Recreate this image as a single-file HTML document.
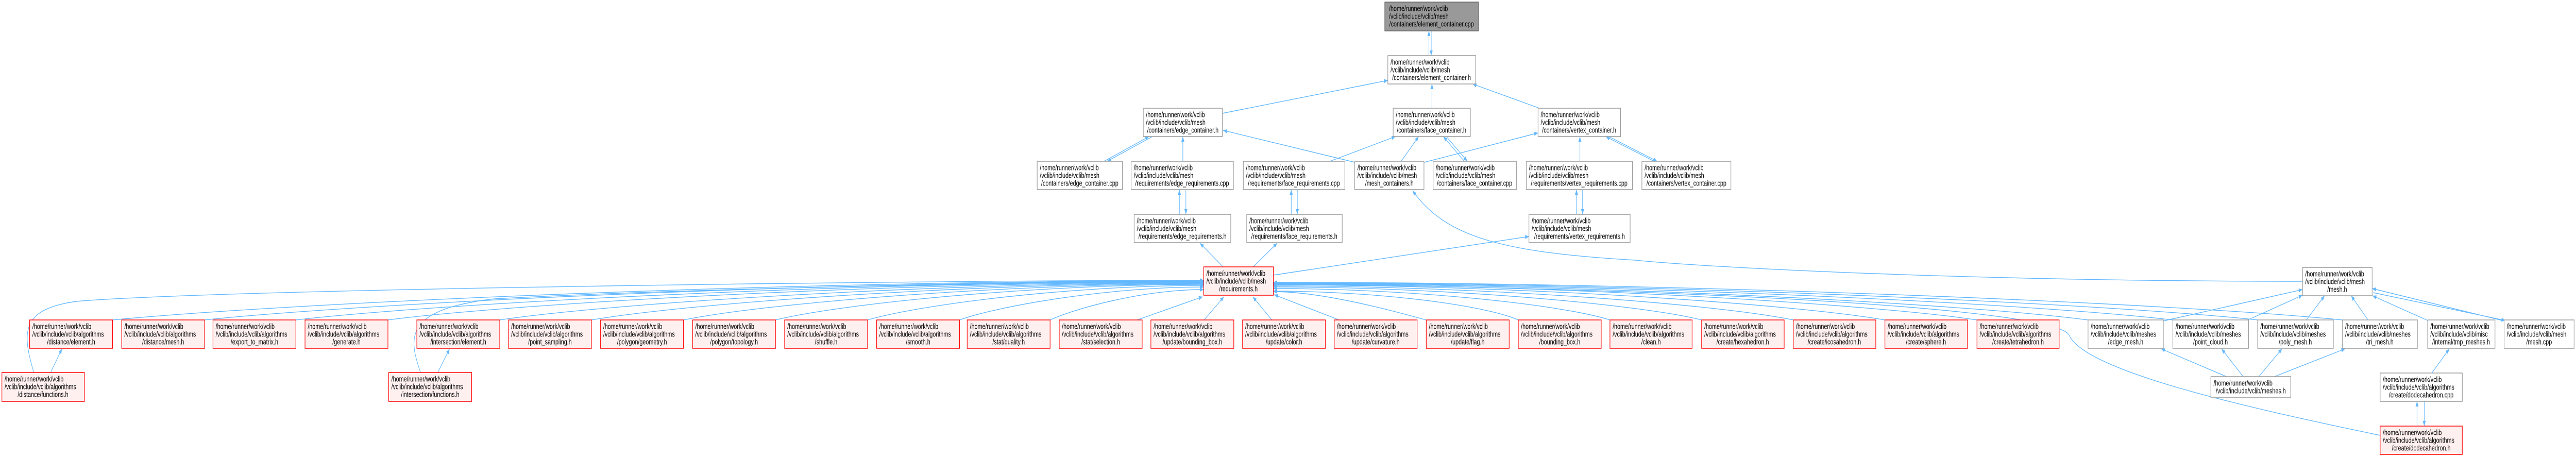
<!DOCTYPE html>
<html><head><meta charset="utf-8"><style>
html,body{margin:0;padding:0;background:#fff;width:100%;height:100%;overflow:hidden;}
svg{display:block;position:absolute;left:0;top:0;width:100vw;height:100vh;}
text{font-family:"Liberation Sans",Helvetica,Arial,sans-serif;font-size:14.6px;fill:#000;transform:translateY(1.5px);}
.w rect{fill:#fff;stroke:#999;stroke-width:1.5;}
.g rect{fill:#999;stroke:#666;stroke-width:1.5;}
.r rect{fill:#fff0f0;stroke:#f00;stroke-width:1.5;}
path.e{fill:none;stroke:#63b8ff;stroke-width:1.4;marker-end:url(#a);}
</style></head><body>
<svg viewBox="0 0 6773 887" preserveAspectRatio="none" xmlns="http://www.w3.org/2000/svg">
<defs><marker id="a" markerWidth="10" markerHeight="8" refX="10" refY="4" orient="auto" markerUnits="userSpaceOnUse"><path d="M0,0L10,4L0,8z" fill="#63b8ff"/></marker></defs>

<path class="e" d="M3757,108L3757,60"/>
<path class="e" d="M3763,60L3763,108"/>
<path class="e" d="M3214,220L3649,156"/>
<path class="e" d="M3765,210L3765,163"/>
<path class="e" d="M4051,211L3872,163"/>
<path class="e" d="M2903,313L3021,265"/>
<path class="e" d="M3030,265L2911,313"/>
<path class="e" d="M3110,313L3110,265"/>
<path class="e" d="M3562,315L3216,253"/>
<path class="e" d="M3497,313L3669,265"/>
<path class="e" d="M3684,313L3730,265"/>
<path class="e" d="M3850,313L3795,265"/>
<path class="e" d="M3803,265L3858,313"/>
<path class="e" d="M3745,315L4044,258"/>
<path class="e" d="M4154,313L4154,265"/>
<path class="e" d="M4349,313L4222,265"/>
<path class="e" d="M4230,265L4357,313"/>
<path class="e" d="M3101,416L3101,368"/>
<path class="e" d="M3118,368L3118,416"/>
<path class="e" d="M3395,416L3395,368"/>
<path class="e" d="M3411,368L3411,416"/>
<path class="e" d="M4145,416L4145,368"/>
<path class="e" d="M4161,368L4161,416"/>
<path class="e" d="M3216,518L3155,472"/>
<path class="e" d="M3295,518L3358,472"/>
<path class="e" d="M3348,534L4020,459"/>
<path class="e" d="M6054,546C5200,546 4500,520 4300,505C3950,490 3800,460 3714,370"/>

<path class="e" d="M296,621C726,590 2017,545 3165,545"/>
<path class="e" d="M538,621C932,590 2114,546 3165,546"/>
<path class="e" d="M778,621C1136,590 2210,547 3165,547"/>
<path class="e" d="M1020,621C1342,590 2307,548 3165,548"/>
<path class="e" d="M1314,621C1592,590 2425,549 3165,549"/>
<path class="e" d="M1555,621C1797,590 2521,550 3165,550"/>
<path class="e" d="M1797,621C2002,590 2618,551 3165,551"/>
<path class="e" d="M2039,621C2208,590 2715,552 3165,552"/>
<path class="e" d="M2281,621C2414,592 2811,554 3165,554"/>
<path class="e" d="M2523,621C2619,595 2908,557 3165,557"/>
<path class="e" d="M2761,621C2822,600 3003,562 3165,562"/>
<path class="e" d="M2990,621L3162,576"/>
<path class="e" d="M3166,621L3218,576"/>
<path class="e" d="M3344,621L3294,576"/>
<path class="e" d="M3521,621L3350,572"/>
<path class="e" d="M3749,621C3600,590 3450,566 3348,566"/>
<path class="e" d="M89,723C55,640 60,600 200,585C600,560 2500,544 3165,544"/>
<path class="e" d="M133,723L163,677"/>
<path class="e" d="M1106,723C1070,650 1070,600 1300,580C1800,560 2700,547 3165,547"/>
<path class="e" d="M1151,723L1182,677"/>

<path class="e" d="M3992,621C3895,590 3606,565 3348,565"/>
<path class="e" d="M4233,621C4100,590 3702,560 3348,560"/>
<path class="e" d="M4474,621C4305,590 3798,557 3348,557"/>
<path class="e" d="M4715,621C4510,590 3895,555 3348,555"/>
<path class="e" d="M4956,621C4715,590 3991,553 3348,553"/>
<path class="e" d="M5198,621C4920,590 4088,552 3348,552"/>
<path class="e" d="M5490,621C5169,590 4205,551 3348,551"/>
<path class="e" d="M5713,621C5358,590 4294,550 3348,550"/>
<path class="e" d="M5936,621C5548,590 4383,549 3348,549"/>
<path class="e" d="M6159,621C5737,590 4472,548 3348,548"/>
<path class="e" d="M6258,845C5900,790 5480,720 5440,650C5400,600 4500,560 3348,551"/>

<path class="e" d="M5688,623L6054,562"/>
<path class="e" d="M5907,622L6054,573"/>
<path class="e" d="M6063,622L6112,574"/>
<path class="e" d="M6227,622L6182,574"/>
<path class="e" d="M6383,622L6238,574"/>
<path class="e" d="M6579,622L6237,560"/>
<path class="e" d="M6240,568L6587,622"/>
<path class="e" d="M5854,731L5682,677"/>
<path class="e" d="M5898,731L5841,677"/>
<path class="e" d="M5939,731L6000,677"/>
<path class="e" d="M5980,731L6166,677"/>
<path class="e" d="M6394,724L6440,677"/>
<path class="e" d="M6355,827L6355,779"/>
<path class="e" d="M6374,779L6374,827"/>

<g class="g"><rect x="3641" y="4" width="246" height="56"/><text x="3652" y="20">/home/runner/work/vclib</text><text x="3652" y="35">/vclib/include/vclib/mesh</text><text x="3764" y="50" text-anchor="middle">/containers/element_container.cpp</text></g>
<g class="w"><rect x="3649" y="108" width="231" height="55"/><text x="3656" y="124">/home/runner/work/vclib</text><text x="3656" y="139">/vclib/include/vclib/mesh</text><text x="3764" y="154" text-anchor="middle">/containers/element_container.h</text></g>
<g class="w"><rect x="3006" y="210" width="208" height="55"/><text x="3013" y="226">/home/runner/work/vclib</text><text x="3013" y="241">/vclib/include/vclib/mesh</text><text x="3110" y="256" text-anchor="middle">/containers/edge_container.h</text></g>
<g class="w"><rect x="3663" y="210" width="203" height="55"/><text x="3670" y="226">/home/runner/work/vclib</text><text x="3670" y="241">/vclib/include/vclib/mesh</text><text x="3764" y="256" text-anchor="middle">/containers/face_container.h</text></g>
<g class="w"><rect x="4044" y="210" width="217" height="55"/><text x="4051" y="226">/home/runner/work/vclib</text><text x="4051" y="241">/vclib/include/vclib/mesh</text><text x="4152" y="256" text-anchor="middle">/containers/vertex_container.h</text></g>

<g class="w"><rect x="2727" y="313" width="224" height="55"/><text x="2734" y="329">/home/runner/work/vclib</text><text x="2734" y="344">/vclib/include/vclib/mesh</text><text x="2839" y="359" text-anchor="middle">/containers/edge_container.cpp</text></g>
<g class="w"><rect x="2974" y="313" width="269" height="55"/><text x="2981" y="329">/home/runner/work/vclib</text><text x="2981" y="344">/vclib/include/vclib/mesh</text><text x="3108" y="359" text-anchor="middle">/requirements/edge_requirements.cpp</text></g>
<g class="w"><rect x="3269" y="313" width="267" height="55"/><text x="3276" y="329">/home/runner/work/vclib</text><text x="3276" y="344">/vclib/include/vclib/mesh</text><text x="3402" y="359" text-anchor="middle">/requirements/face_requirements.cpp</text></g>
<g class="w"><rect x="3562" y="313" width="182" height="55"/><text x="3569" y="329">/home/runner/work/vclib</text><text x="3569" y="344">/vclib/include/vclib/mesh</text><text x="3653" y="359" text-anchor="middle">/mesh_containers.h</text></g>
<g class="w"><rect x="3768" y="313" width="219" height="55"/><text x="3775" y="329">/home/runner/work/vclib</text><text x="3775" y="344">/vclib/include/vclib/mesh</text><text x="3877" y="359" text-anchor="middle">/containers/face_container.cpp</text></g>
<g class="w"><rect x="4013" y="313" width="279" height="55"/><text x="4020" y="329">/home/runner/work/vclib</text><text x="4020" y="344">/vclib/include/vclib/mesh</text><text x="4152" y="359" text-anchor="middle">/requirements/vertex_requirements.cpp</text></g>
<g class="w"><rect x="4317" y="313" width="234" height="55"/><text x="4324" y="329">/home/runner/work/vclib</text><text x="4324" y="344">/vclib/include/vclib/mesh</text><text x="4434" y="359" text-anchor="middle">/containers/vertex_container.cpp</text></g>

<g class="w"><rect x="2982" y="416" width="254" height="55"/><text x="2989" y="432">/home/runner/work/vclib</text><text x="2989" y="447">/vclib/include/vclib/mesh</text><text x="3109" y="462" text-anchor="middle">/requirements/edge_requirements.h</text></g>
<g class="w"><rect x="3278" y="416" width="251" height="55"/><text x="3285" y="432">/home/runner/work/vclib</text><text x="3285" y="447">/vclib/include/vclib/mesh</text><text x="3403" y="462" text-anchor="middle">/requirements/face_requirements.h</text></g>
<g class="w"><rect x="4020" y="416" width="266" height="55"/><text x="4027" y="432">/home/runner/work/vclib</text><text x="4027" y="447">/vclib/include/vclib/mesh</text><text x="4153" y="462" text-anchor="middle">/requirements/vertex_requirements.h</text></g>

<g class="r"><rect x="3165" y="518" width="183" height="55"/><text x="3172" y="534">/home/runner/work/vclib</text><text x="3172" y="549">/vclib/include/vclib/mesh</text><text x="3256" y="564" text-anchor="middle">/requirements.h</text></g>
<g class="w"><rect x="6054" y="519" width="183" height="55"/><text x="6061" y="535">/home/runner/work/vclib</text><text x="6061" y="550">/vclib/include/vclib/mesh</text><text x="6145" y="565" text-anchor="middle">/mesh.h</text></g>

<g class="r"><rect x="78" y="621" width="218" height="55"/><text x="85" y="637">/home/runner/work/vclib</text><text x="85" y="652">/vclib/include/vclib/algorithms</text><text x="187" y="667" text-anchor="middle">/distance/element.h</text></g>
<g class="r"><rect x="320" y="621" width="218" height="55"/><text x="327" y="637">/home/runner/work/vclib</text><text x="327" y="652">/vclib/include/vclib/algorithms</text><text x="429" y="667" text-anchor="middle">/distance/mesh.h</text></g>
<g class="r"><rect x="560" y="621" width="218" height="55"/><text x="567" y="637">/home/runner/work/vclib</text><text x="567" y="652">/vclib/include/vclib/algorithms</text><text x="669" y="667" text-anchor="middle">/export_to_matrix.h</text></g>
<g class="r"><rect x="802" y="621" width="218" height="55"/><text x="809" y="637">/home/runner/work/vclib</text><text x="809" y="652">/vclib/include/vclib/algorithms</text><text x="911" y="667" text-anchor="middle">/generate.h</text></g>
<g class="r"><rect x="1096" y="621" width="218" height="55"/><text x="1103" y="637">/home/runner/work/vclib</text><text x="1103" y="652">/vclib/include/vclib/algorithms</text><text x="1205" y="667" text-anchor="middle">/intersection/element.h</text></g>
<g class="r"><rect x="1337" y="621" width="218" height="55"/><text x="1344" y="637">/home/runner/work/vclib</text><text x="1344" y="652">/vclib/include/vclib/algorithms</text><text x="1446" y="667" text-anchor="middle">/point_sampling.h</text></g>
<g class="r"><rect x="1579" y="621" width="218" height="55"/><text x="1586" y="637">/home/runner/work/vclib</text><text x="1586" y="652">/vclib/include/vclib/algorithms</text><text x="1688" y="667" text-anchor="middle">/polygon/geometry.h</text></g>
<g class="r"><rect x="1821" y="621" width="218" height="55"/><text x="1828" y="637">/home/runner/work/vclib</text><text x="1828" y="652">/vclib/include/vclib/algorithms</text><text x="1930" y="667" text-anchor="middle">/polygon/topology.h</text></g>
<g class="r"><rect x="2063" y="621" width="218" height="55"/><text x="2070" y="637">/home/runner/work/vclib</text><text x="2070" y="652">/vclib/include/vclib/algorithms</text><text x="2172" y="667" text-anchor="middle">/shuffle.h</text></g>
<g class="r"><rect x="2305" y="621" width="218" height="55"/><text x="2312" y="637">/home/runner/work/vclib</text><text x="2312" y="652">/vclib/include/vclib/algorithms</text><text x="2414" y="667" text-anchor="middle">/smooth.h</text></g>
<g class="r"><rect x="2543" y="621" width="218" height="55"/><text x="2550" y="637">/home/runner/work/vclib</text><text x="2550" y="652">/vclib/include/vclib/algorithms</text><text x="2652" y="667" text-anchor="middle">/stat/quality.h</text></g>
<g class="r"><rect x="2785" y="621" width="218" height="55"/><text x="2792" y="637">/home/runner/work/vclib</text><text x="2792" y="652">/vclib/include/vclib/algorithms</text><text x="2894" y="667" text-anchor="middle">/stat/selection.h</text></g>
<g class="r"><rect x="3026" y="621" width="218" height="55"/><text x="3033" y="637">/home/runner/work/vclib</text><text x="3033" y="652">/vclib/include/vclib/algorithms</text><text x="3135" y="667" text-anchor="middle">/update/bounding_box.h</text></g>
<g class="r"><rect x="3267" y="621" width="218" height="55"/><text x="3274" y="637">/home/runner/work/vclib</text><text x="3274" y="652">/vclib/include/vclib/algorithms</text><text x="3376" y="667" text-anchor="middle">/update/color.h</text></g>
<g class="r"><rect x="3508" y="621" width="218" height="55"/><text x="3515" y="637">/home/runner/work/vclib</text><text x="3515" y="652">/vclib/include/vclib/algorithms</text><text x="3617" y="667" text-anchor="middle">/update/curvature.h</text></g>
<g class="r"><rect x="3750" y="621" width="218" height="55"/><text x="3757" y="637">/home/runner/work/vclib</text><text x="3757" y="652">/vclib/include/vclib/algorithms</text><text x="3859" y="667" text-anchor="middle">/update/flag.h</text></g>
<g class="r"><rect x="3992" y="621" width="218" height="55"/><text x="3999" y="637">/home/runner/work/vclib</text><text x="3999" y="652">/vclib/include/vclib/algorithms</text><text x="4101" y="667" text-anchor="middle">/bounding_box.h</text></g>
<g class="r"><rect x="4233" y="621" width="216" height="55"/><text x="4240" y="637">/home/runner/work/vclib</text><text x="4240" y="652">/vclib/include/vclib/algorithms</text><text x="4341" y="667" text-anchor="middle">/clean.h</text></g>
<g class="r"><rect x="4474" y="621" width="217" height="55"/><text x="4481" y="637">/home/runner/work/vclib</text><text x="4481" y="652">/vclib/include/vclib/algorithms</text><text x="4582" y="667" text-anchor="middle">/create/hexahedron.h</text></g>
<g class="r"><rect x="4715" y="621" width="217" height="55"/><text x="4722" y="637">/home/runner/work/vclib</text><text x="4722" y="652">/vclib/include/vclib/algorithms</text><text x="4823" y="667" text-anchor="middle">/create/icosahedron.h</text></g>
<g class="r"><rect x="4956" y="621" width="217" height="55"/><text x="4963" y="637">/home/runner/work/vclib</text><text x="4963" y="652">/vclib/include/vclib/algorithms</text><text x="5064" y="667" text-anchor="middle">/create/sphere.h</text></g>
<g class="r"><rect x="5198" y="621" width="216" height="55"/><text x="5205" y="637">/home/runner/work/vclib</text><text x="5205" y="652">/vclib/include/vclib/algorithms</text><text x="5306" y="667" text-anchor="middle">/create/tetrahedron.h</text></g>

<g class="w"><rect x="5490" y="621" width="198" height="55"/><text x="5497" y="637">/home/runner/work/vclib</text><text x="5497" y="652">/vclib/include/vclib/meshes</text><text x="5589" y="667" text-anchor="middle">/edge_mesh.h</text></g>
<g class="w"><rect x="5713" y="621" width="199" height="55"/><text x="5720" y="637">/home/runner/work/vclib</text><text x="5720" y="652">/vclib/include/vclib/meshes</text><text x="5812" y="667" text-anchor="middle">/point_cloud.h</text></g>
<g class="w"><rect x="5936" y="621" width="199" height="55"/><text x="5943" y="637">/home/runner/work/vclib</text><text x="5943" y="652">/vclib/include/vclib/meshes</text><text x="6035" y="667" text-anchor="middle">/poly_mesh.h</text></g>
<g class="w"><rect x="6159" y="621" width="197" height="55"/><text x="6166" y="637">/home/runner/work/vclib</text><text x="6166" y="652">/vclib/include/vclib/meshes</text><text x="6257" y="667" text-anchor="middle">/tri_mesh.h</text></g>
<g class="w"><rect x="6383" y="621" width="177" height="55"/><text x="6390" y="637">/home/runner/work/vclib</text><text x="6390" y="652">/vclib/include/vclib/misc</text><text x="6471" y="667" text-anchor="middle">/internal/tmp_meshes.h</text></g>
<g class="w"><rect x="6584" y="621" width="184" height="55"/><text x="6591" y="637">/home/runner/work/vclib</text><text x="6591" y="652">/vclib/include/vclib/mesh</text><text x="6676" y="667" text-anchor="middle">/mesh.cpp</text></g>

<g class="r"><rect x="5" y="723" width="217" height="56"/><text x="12" y="739">/home/runner/work/vclib</text><text x="12" y="754">/vclib/include/vclib/algorithms</text><text x="113" y="769" text-anchor="middle">/distance/functions.h</text></g>
<g class="r"><rect x="1022" y="723" width="218" height="56"/><text x="1029" y="739">/home/runner/work/vclib</text><text x="1029" y="754">/vclib/include/vclib/algorithms</text><text x="1131" y="769" text-anchor="middle">/intersection/functions.h</text></g>
<g class="w"><rect x="5813" y="731" width="210" height="41"/><text x="5820" y="747">/home/runner/work/vclib</text><text x="5918" y="762" text-anchor="middle">/vclib/include/vclib/meshes.h</text></g>
<g class="w"><rect x="6258" y="724" width="216" height="55"/><text x="6265" y="740">/home/runner/work/vclib</text><text x="6265" y="755">/vclib/include/vclib/algorithms</text><text x="6366" y="770" text-anchor="middle">/create/dodecahedron.cpp</text></g>
<g class="r"><rect x="6258" y="827" width="216" height="55"/><text x="6265" y="843">/home/runner/work/vclib</text><text x="6265" y="858">/vclib/include/vclib/algorithms</text><text x="6366" y="873" text-anchor="middle">/create/dodecahedron.h</text></g>
</svg>
</body></html>
